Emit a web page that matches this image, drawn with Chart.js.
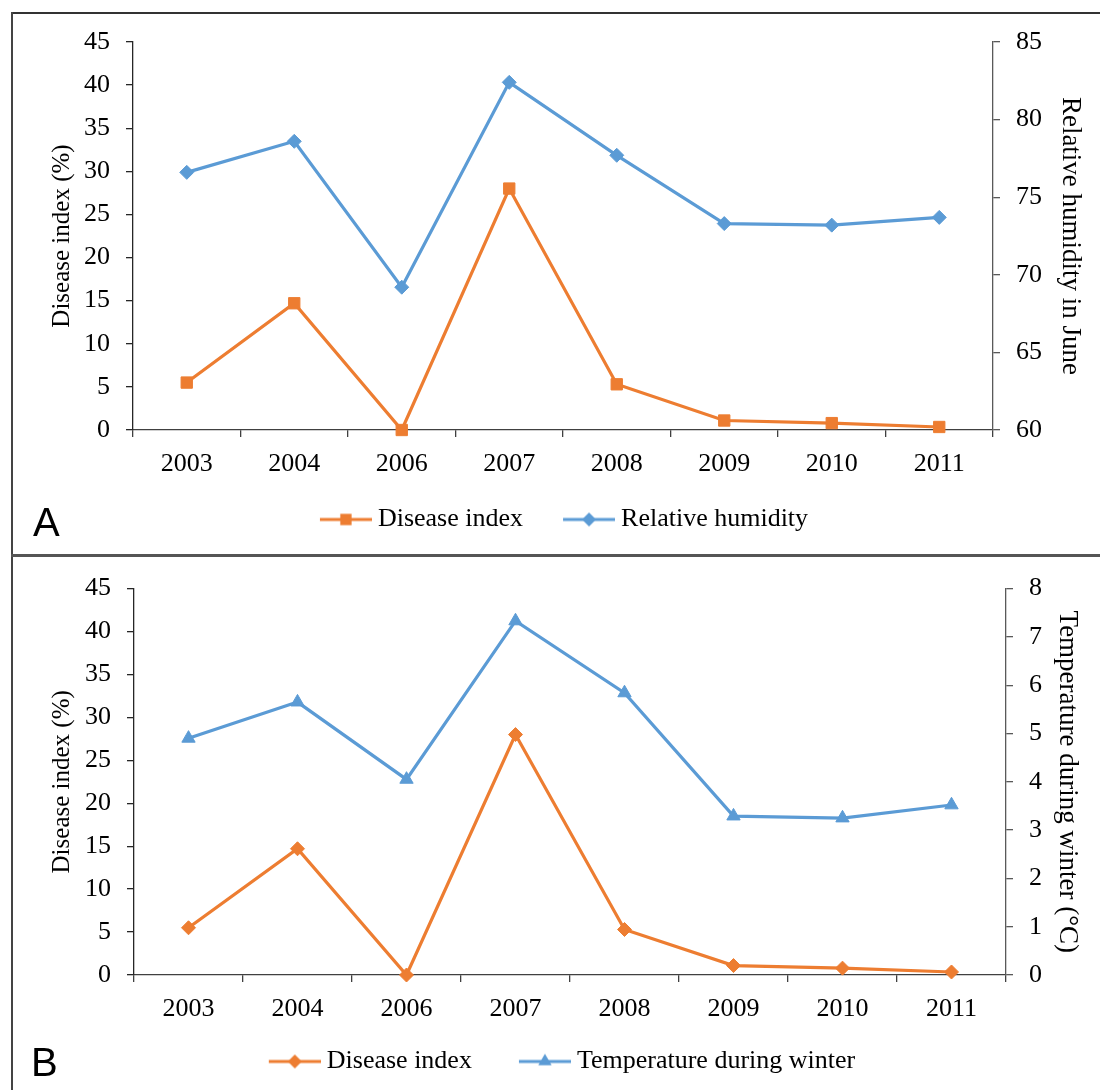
<!DOCTYPE html>
<html>
<head>
<meta charset="utf-8">
<script src="https://cdn.jsdelivr.net/npm/chart.js@4.4.1/dist/chart.umd.min.js"></script>
<style>
  html, body { margin: 0; padding: 0; background: #fff; }
  body { width: 1100px; height: 1090px; position: relative; overflow: hidden; }
  .wrap { position: absolute; left: 0; }
  .rule { position: absolute; }
  .tag { position: absolute; font-family: 'Liberation Sans', Arial, sans-serif; font-size: 40px; line-height: 1; color: #000; }
</style>
</head>
<body>
<div class="wrap" style="top:0;width:1113px;height:555px"><canvas id="chartA"></canvas></div>
<div class="wrap" style="top:557px;width:1102px;height:533px"><canvas id="chartB"></canvas></div>

<div class="rule" style="left:11px;top:12px;width:1089px;height:2px;background:#333"></div>
<div class="rule" style="left:11px;top:12px;width:2px;height:1078px;background:#444"></div>
<div class="rule" style="left:11px;top:554px;width:1089px;height:3px;background:#555"></div>
<div class="tag" style="left:33px;top:502px">A</div>
<div class="tag" style="left:31px;top:1042px">B</div>

<script>
// values
const years = ['2003', '2004', '2006', '2007', '2008', '2009', '2010', '2011'];
const diseaseIndex = [5.5, 14.7, 0, 28, 5.3, 1.1, 0.8, 0.35];
const humidityJune = [76.6, 78.6, 69.2, 82.4, 77.7, 73.3, 73.2, 73.7];
const winterTemp = [4.9, 5.65, 4.05, 7.33, 5.84, 3.29, 3.25, 3.52];

const diseaseTicks = { min: 0, max: 45, step: 5 };
const humidityTicks = { min: 60, max: 85, step: 5 };
const tempTicks = { min: 0, max: 8, step: 1 };

const ORANGE = '#ED7D31', BLUE = '#5B9BD5';
const FONT = "'Liberation Serif', 'Times New Roman', serif";
const LEG_PAD = 25;

// line+marker swatch for the legend, centred inside a box of width bw,
// visible line starts a px into the box
function swatch(color, shape, r, bw, a) {
  const c = document.createElement('canvas');
  c.width = 2 * a + 104 - bw; c.height = 22;
  const ctx = c.getContext('2d');
  const x0 = 2 * a + 52 - bw;
  ctx.strokeStyle = color; ctx.fillStyle = color; ctx.lineWidth = 3.2;
  ctx.beginPath(); ctx.moveTo(x0, 11); ctx.lineTo(x0 + 52, 11); ctx.stroke();
  const x = x0 + 26, y = 11;
  ctx.beginPath();
  if (shape === 'rect') {
    const s = r / Math.SQRT2;
    ctx.rect(x - s, y - s, 2 * s, 2 * s);
  } else if (shape === 'rectRot') {
    ctx.moveTo(x, y - r); ctx.lineTo(x + r, y); ctx.lineTo(x, y + r); ctx.lineTo(x - r, y);
  } else {
    ctx.moveTo(x, y - r);
    ctx.lineTo(x + r * Math.sin(2 * Math.PI / 3), y - r * Math.cos(2 * Math.PI / 3));
    ctx.lineTo(x + r * Math.sin(4 * Math.PI / 3), y - r * Math.cos(4 * Math.PI / 3));
  }
  ctx.closePath(); ctx.fill();
  return c;
}

function yAxis(pos, t, title, width, titlePad, color, titleSize) {
  return {
    type: 'linear', position: pos, min: t.min, max: t.max,
    ticks: { stepSize: t.step, color: '#000', font: { family: FONT, size: 26 }, padding: 16 },
    grid: { drawOnChartArea: false, drawTicks: true, tickLength: 7, color: color, lineWidth: 1.3 },
    border: { display: true, color: color, width: 1.3 },
    title: { display: true, text: title, color: '#000', font: { family: FONT, size: titleSize }, padding: { top: titlePad, bottom: 0 } },
    afterFit(s) { s.width = width; }
  };
}

function series(label, data, axis, color, shape, r) {
  return {
    label, data, yAxisID: axis,
    borderColor: color, backgroundColor: color, borderWidth: 3.2, tension: 0,
    pointStyle: shape, pointRadius: r, pointHoverRadius: r,
    pointBackgroundColor: color, pointBorderColor: color, pointBorderWidth: 1,
    clip: false
  };
}

function panel(id, o) {
  const a = o.legendGap - LEG_PAD, bw = a + 45;
  const icons = o.datasets.map(d => swatch(d.borderColor, d.pointStyle, d.pointRadius, bw, a));
  return new Chart(document.getElementById(id), {
    type: 'line',
    data: { labels: years, datasets: o.datasets },
    options: {
      responsive: true, maintainAspectRatio: false, animation: false, events: [],
      layout: { padding: { top: o.top, left: 0, right: 0, bottom: o.bottom } },
      plugins: {
        tooltip: { enabled: false },
        legend: {
          position: 'bottom',
          labels: {
            usePointStyle: true, pointStyleWidth: bw, padding: LEG_PAD, color: '#000',
            font: { family: FONT, size: 26 },
            generateLabels(chart) {
              const items = Chart.defaults.plugins.legend.labels.generateLabels(chart);
              items.forEach((it, i) => { it.pointStyle = icons[i]; it.fontColor = '#000'; });
              return items;
            }
          }
        }
      },
      scales: {
        x: {
          type: 'category', offset: true,
          grid: { offset: true, drawOnChartArea: false, drawTicks: true, tickLength: 7, color: '#404040', lineWidth: 1.3 },
          border: { display: true, color: '#404040', width: 1.3 },
          ticks: { color: '#000', font: { family: FONT, size: 26 }, padding: 12, maxRotation: 0, autoSkip: false },
          afterFit(s) { s.height = o.xHeight; }
        },
        y: yAxis('left', diseaseTicks, 'Disease index (%)', o.leftW, o.leftPad, '#262626', 25),
        y1: yAxis('right', o.rightTicks, o.rightTitle, o.rightW, o.rightPad, '#595959', 27)
      }
    }
  });
}

panel('chartA', {
  datasets: [
    series('Disease index', diseaseIndex, 'y', ORANGE, 'rect', 8),
    series('Relative humidity', humidityJune, 'y1', BLUE, 'rectRot', 7)
  ],
  top: 42, bottom: 12.5, xHeight: 51.5, legendGap: 40,
  leftW: 133, leftPad: 47, rightW: 120, rightPad: 27,
  rightTicks: humidityTicks, rightTitle: 'Relative humidity in June'
});

panel('chartB', {
  datasets: [
    series('Disease index', diseaseIndex, 'y', ORANGE, 'rectRot', 7),
    series('Temperature during winter', winterTemp, 'y1', BLUE, 'triangle', 7.7)
  ],
  top: 30, bottom: 5.5, xHeight: 48.5, legendGap: 47,
  leftW: 134, leftPad: 47, rightW: 96, rightPad: 19,
  rightTicks: tempTicks, rightTitle: 'Temperature during winter (°C)'
});
</script>
</body>
</html>
